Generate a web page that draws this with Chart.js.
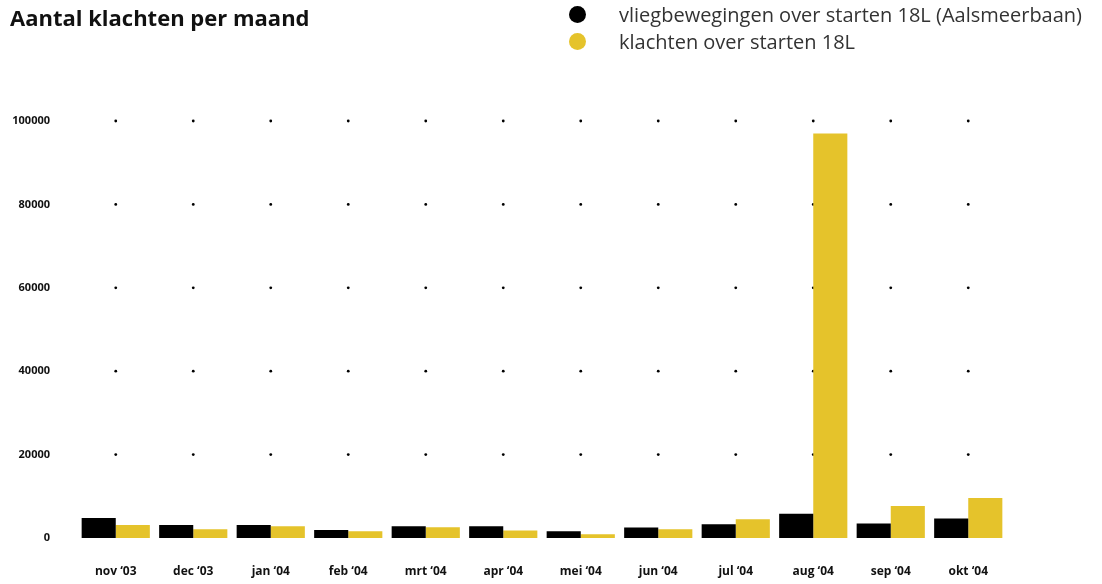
<!DOCTYPE html>
<html>
<head>
<meta charset="utf-8">
<script src="https://cdn.jsdelivr.net/npm/chart.js@4.4.1/dist/chart.umd.min.js"></script>
<style>
  body { margin: 0; background: #fff; font-family: 'Open Sans', sans-serif; }
  #wrap { position: relative; width: 1102px; height: 584px; }
  #title { position: absolute; left: 10px; top: 2px; font-size: 22px; font-weight: 700; color: #111; }
  #legend { position: absolute; left: 569px; top: 1px; font-size: 20px; color: #333; }
  #legend div { height: 27px; line-height: 27px; white-space: nowrap; }
  #legend span { display: inline-block; width: 17px; height: 17px; border-radius: 50%; vertical-align: -1px; margin-right: 33px; }
</style>
</head>
<body>
<div id="wrap">
  <canvas id="chart" width="1102" height="584"></canvas>
  <div id="title">Aantal klachten per maand</div>
  <div id="legend"></div>
</div>
<script>
// DATA

const months = ['nov ‘03', 'dec ‘03', 'jan ‘04', 'feb ‘04', 'mrt ‘04', 'apr ‘04', 'mei ‘04', 'jun ‘04', 'jul ‘04', 'aug ‘04', 'sep ‘04', 'okt ‘04'];
const flights = [4800, 3100, 3100, 1900, 2800, 2800, 1600, 2500, 3300, 5800, 3500, 4700];
const complaints = [3100, 2100, 2800, 1600, 2600, 1800, 900, 2100, 4500, 97000, 7700, 9600];
const seriesNames = ['vliegbewegingen over starten 18L (Aalsmeerbaan)', 'klachten over starten 18L'];
const seriesColors = ['#000000', '#E5C32B'];

// DOT GRID

const dotGrid = {
  id: 'dotGrid',
  beforeDatasetsDraw(chart) {
    const c = chart.ctx;
    const xs = chart.scales.x, ys = chart.scales.y;
    c.save();
    c.fillStyle = '#000';
    ys.ticks.forEach((t) => {
      if (t.value === 0) return;
      const y = ys.getPixelForValue(t.value);
      months.forEach((m, i) => {
        c.beginPath();
        c.arc(xs.getPixelForValue(i), y, 1.4, 0, Math.PI * 2);
        c.fill();
      });
    });
    c.restore();
  }
};

// CHART

const ctx = document.getElementById('chart');
const chart = new Chart(ctx, {
  type: 'bar',
  data: {
    labels: months,
    datasets: [{
      label: seriesNames[0],
      data: flights,
      backgroundColor: seriesColors[0]
    }, {
      label: seriesNames[1],
      data: complaints,
      backgroundColor: seriesColors[1]
    }]
  },
  options: {
    responsive: false,
    animation: false,
    layout: { padding: { top: 121, right: 95, left: 0, bottom: 0 } },
    plugins: {
      legend: { display: false },
      tooltip: { enabled: false }
    },
    datasets: {
      bar: { categoryPercentage: 0.88, barPercentage: 1 }
    },
    scales: {
      x: {
        grid: { display: false },
        border: { display: false },
        ticks: {
          color: '#111',
          padding: 18,
          maxRotation: 0,
          font: { family: 'Open Sans', size: 12, weight: 'bold' }
        },
        afterFit(s) { s.height = 46; }
      },
      y: {
        min: 0,
        max: 100000,
        grid: { display: false },
        border: { display: false },
        ticks: {
          stepSize: 20000,
          color: '#111',
          padding: 19,
          font: { family: 'Open Sans', size: 11, weight: 'bold' },
          callback: (v) => String(v)
        },
        afterFit(s) { s.width = 77; }
      }
    }
  },
  plugins: [dotGrid]
});

// LEGEND

const legend = document.getElementById('legend');
seriesNames.forEach((name, i) => {
  const row = document.createElement('div');
  row.innerHTML = '<span style="background:' + seriesColors[i] + '"></span>' + name;
  legend.appendChild(row);
});
</script>
</body>
</html>
